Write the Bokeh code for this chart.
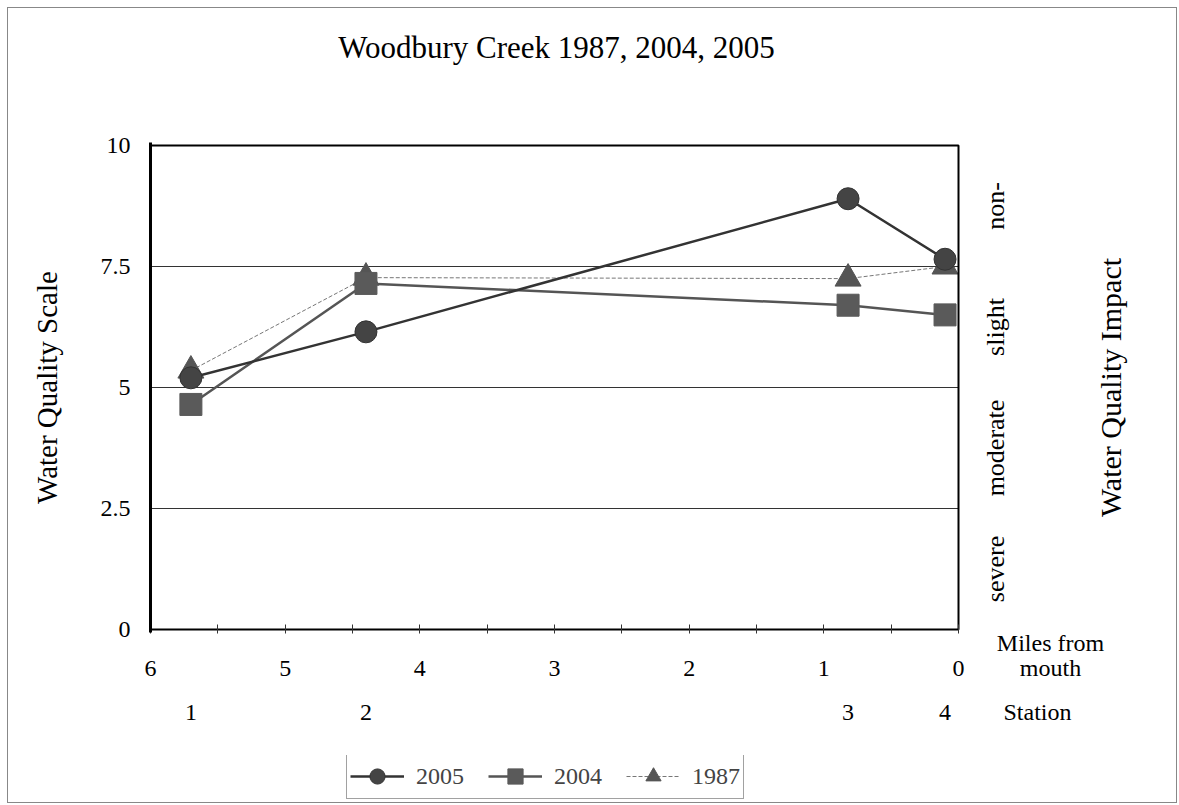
import math
from bokeh.plotting import figure
from bokeh.layouts import column
from bokeh.models import Range1d, FixedTicker, Label, Legend, LegendItem, LinearAxis
from bokeh.embed import file_html
from bokeh.resources import INLINE

# ---- data ----
miles = [5.70, 4.40, 0.82, 0.10]
stations = ["1", "2", "3", "4"]
wq_2005 = [5.2, 6.15, 8.9, 7.65]
wq_2004 = [4.65, 7.15, 6.7, 6.5]
wq_1987 = [5.35, 7.27, 7.25, 7.5]
y_ticks = [0, 2.5, 5, 7.5, 10]
y_tick_labels = ["0", "2.5", "5", "7.5", "10"]
x_ticks = [6, 5, 4, 3, 2, 1, 0]
x_tick_marks = [0, 0.5, 1, 1.5, 2, 2.5, 3, 3.5, 4, 4.5, 5, 5.5, 6]
band_limits = [0, 2.5, 5, 7.5, 10]
bands = ["severe", "moderate", "slight", "non-"]

SERIF = "Liberation Serif"

# ---- geometry (page px) ----
PAGE0 = 8                       # canvas origin on page
BOX_L, BOX_R, BOX_T, BOX_B = 150, 958, 145, 629
PAD = 3                         # keep the box edges off the frame clip
W = 1168
TITLE_B = 88                    # bottom of title strip
LEG_T, LEG_B = 755, 802         # legend strip
px_per_mile = (BOX_R - BOX_L) / 6.0
px_per_unit = (BOX_B - BOX_T) / 10.0
x_end = 6 - (PAGE0 + W - BOX_L) / px_per_mile   # frame runs to the right edge

def dx(px):
    return 6 - (px - BOX_L) / px_per_mile

def strip(height):
    f = figure(width=W, height=height, output_backend="svg", toolbar_location=None,
               x_range=Range1d(6, x_end), y_range=Range1d(0, 1),
               x_axis_location=None, y_axis_location=None,
               min_border_left=BOX_L - PAGE0, min_border_right=0,
               min_border_top=0, min_border_bottom=0)
    f.outline_line_color = None
    f.xgrid.grid_line_color = None
    f.ygrid.grid_line_color = None
    return f

# ---- title strip ----
tf = strip(TITLE_B - PAGE0)
tf.add_layout(Label(x=dx(556), y=(TITLE_B - 47) / (TITLE_B - PAGE0),
                    text="Woodbury Creek 1987, 2004, 2005", text_font=SERIF,
                    text_font_size="31px", text_align="center", text_baseline="middle",
                    text_color="black"))

# ---- main plot ----
H_MAIN = LEG_T - TITLE_B
p = figure(width=W, height=H_MAIN, output_backend="svg", toolbar_location=None,
           x_range=Range1d(6, x_end),
           y_range=Range1d(-PAD / px_per_unit, 10 + PAD / px_per_unit),
           min_border_left=BOX_L - PAGE0, min_border_right=0,
           min_border_top=BOX_T - TITLE_B - PAD, min_border_bottom=LEG_T - BOX_B - PAD)
p.background_fill_color = "white"
p.border_fill_color = "white"
p.outline_line_color = None
p.xgrid.grid_line_color = None
p.ygrid.grid_line_color = None

# x axis (miles from mouth); labels on two lines, tick marks drawn as minor ticks
mouth_x = dx(1050)
x_labels = {t: "\n" + str(t) for t in x_ticks}
x_labels[mouth_x] = "Miles from\nmouth"
p.xaxis.ticker = FixedTicker(ticks=x_ticks + [mouth_x], minor_ticks=x_tick_marks)
p.xaxis.major_label_overrides = x_labels
p.xaxis.major_label_text_font = SERIF
p.xaxis.major_label_text_font_size = "24px"
p.xaxis.major_label_text_line_height = 0.97
p.xaxis.major_label_text_color = "black"
p.xaxis.major_tick_line_color = None
p.xaxis.major_tick_in = 0
p.xaxis.major_tick_out = 0
p.xaxis.minor_tick_in = 5 + PAD
p.xaxis.minor_tick_out = 4 - PAD
p.xaxis.minor_tick_line_color = "#333"
p.xaxis.axis_line_color = None
p.xaxis.major_label_standoff = -4

# station axis (below)
station_x = dx(1037)
st_ticks = miles + [station_x]
st_labels = {m: s for m, s in zip(miles, stations)}
st_labels[station_x] = "Station"
st_axis = LinearAxis(ticker=FixedTicker(ticks=st_ticks),
                     major_label_overrides=st_labels,
                     axis_line_color=None, major_tick_line_color=None,
                     minor_tick_line_color=None, major_tick_in=0, major_tick_out=0,
                     major_label_standoff=15, major_label_text_font=SERIF,
                     major_label_text_font_size="24px", major_label_text_color="black")
p.add_layout(st_axis, "below")

# y axis
p.yaxis.ticker = FixedTicker(ticks=y_ticks)
p.yaxis.major_label_overrides = {t: l for t, l in zip(y_ticks, y_tick_labels)}
p.yaxis.major_label_text_font = SERIF
p.yaxis.major_label_text_font_size = "24px"
p.yaxis.major_label_text_color = "black"
p.yaxis.major_tick_in = 0
p.yaxis.major_tick_out = 0
p.yaxis.minor_tick_line_color = None
p.yaxis.axis_line_width = 3
p.yaxis.major_label_standoff = 20
p.yaxis.axis_label = "Water Quality Scale"
p.yaxis.axis_label_text_font = SERIF
p.yaxis.axis_label_text_font_size = "29px"
p.yaxis.axis_label_text_font_style = "normal"
p.yaxis.axis_label_text_color = "black"
p.yaxis.axis_label_standoff = 35

# impact bands (grid lines)
p.quad(left=6, right=0, bottom=band_limits[:-1], top=band_limits[1:],
       fill_color=None, line_color="#333", line_width=1)

# series (1987 below, 2005 on top)
def draw(fig):
    l87 = fig.line(miles, wq_1987, line_color="#777", line_width=1, line_dash="4 2")
    s87 = fig.scatter(miles, wq_1987, marker="triangle", size=26, fill_color="#555",
                      line_color="#555")
    l04 = fig.line(miles, wq_2004, line_color="#555", line_width=2.5)
    s04 = fig.scatter(miles, wq_2004, marker="square", size=22, fill_color="#5a5a5a",
                      line_color="#5a5a5a")
    l05 = fig.line(miles, wq_2005, line_color="#333", line_width=2.5)
    s05 = fig.scatter(miles, wq_2005, marker="circle", size=22, fill_color="#444",
                      line_color="#333")
    return (l05, s05), (l04, s04), (l87, s87)

draw(p)

# plot box
p.quad(left=6, right=0, bottom=band_limits[0], top=band_limits[-1],
       fill_color=None, line_color="black", line_width=2)

# right-hand texts (inside the extended frame)
for i, b in enumerate(bands):
    p.add_layout(Label(x=dx(995), y=(band_limits[i] + band_limits[i + 1]) / 2, text=b,
                       text_font=SERIF, text_font_size="26px", text_align="center",
                       text_baseline="middle", angle=math.pi / 2, text_color="black"))
p.add_layout(Label(x=dx(1110), y=5, text="Water Quality Impact", text_font=SERIF,
                   text_font_size="30px", text_align="center", text_baseline="middle",
                   angle=math.pi / 2, text_color="black"))

# ---- legend strip (series drawn again out of view for the key) ----
lg = strip(LEG_B - LEG_T)
lg.y_range = Range1d(100, 101)
r05, r04, r87 = draw(lg)
legend = Legend(items=[LegendItem(label="2005", renderers=list(r05)),
                       LegendItem(label="2004", renderers=list(r04)),
                       LegendItem(label="1987", renderers=list(r87))],
                orientation="horizontal", location=(196, 3),
                glyph_width=54, glyph_height=38, label_standoff=12, spacing=24,
                padding=3, margin=0,
                label_text_font=SERIF, label_text_font_size="24px",
                border_line_color="#444", border_line_width=1,
                background_fill_alpha=1)
lg.add_layout(legend, "center")

page = column(tf, p, lg, spacing=0, styles={"border": "1px solid #888", "margin": "7px"})
open("out.html", "w").write(file_html(page, INLINE))
